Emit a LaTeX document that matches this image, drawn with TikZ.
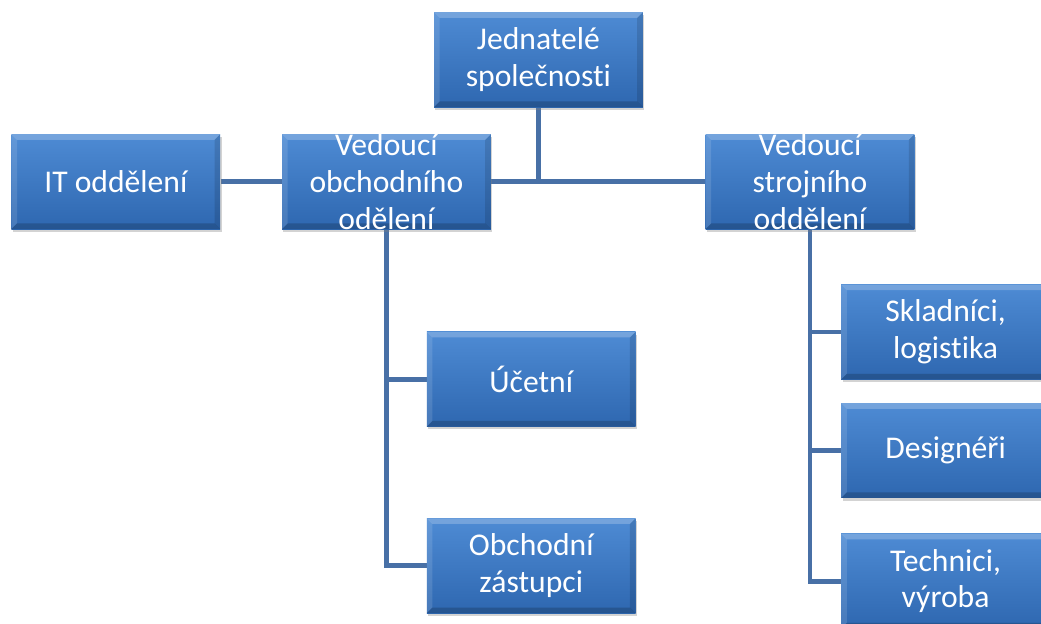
\documentclass[tikz,border=0pt]{standalone}
\usepackage{fontspec}
\setmainfont[Ligatures=NoCommon]{Carlito}
\usetikzlibrary{positioning,backgrounds,shadows}
\definecolor{boxtop}{RGB}{78,139,212}
\definecolor{boxbot}{RGB}{46,103,176}
\definecolor{linkblue}{RGB}{72,112,166}

\begin{document}
\begin{tikzpicture}
[font=\fontsize{22.5pt}{26pt}\selectfont,
% STYLES
% The unit style draws one department box
unit/.style={rectangle, inner sep=0pt, minimum width=5.22cm, minimum height=2.37cm,
  top color=boxtop, bottom color=boxbot, text=white, align=center,
  drop shadow={shadow xshift=1pt, shadow yshift=-2pt, opacity=0.35},
  path picture={
    \fill[white, opacity=0.22] (path picture bounding box.north west) -- (path picture bounding box.north east)
      -- ([xshift=-4pt,yshift=-4pt]path picture bounding box.north east) -- ([xshift=4pt,yshift=-4pt]path picture bounding box.north west) -- cycle;
    \fill[white, opacity=0.12] (path picture bounding box.north west) -- ([xshift=4pt,yshift=-4pt]path picture bounding box.north west)
      -- ([xshift=4pt,yshift=4pt]path picture bounding box.south west) -- (path picture bounding box.south west) -- cycle;
    \fill[black, opacity=0.18] (path picture bounding box.south west) -- (path picture bounding box.south east)
      -- ([xshift=-4pt,yshift=4pt]path picture bounding box.south east) -- ([xshift=4pt,yshift=4pt]path picture bounding box.south west) -- cycle;
    \fill[black, opacity=0.12] (path picture bounding box.north east) -- ([xshift=-4pt,yshift=-4pt]path picture bounding box.north east)
      -- ([xshift=-4pt,yshift=4pt]path picture bounding box.south east) -- (path picture bounding box.south east) -- cycle;
  }},
% The caption style is used for texts that run over the box
caption/.style={text=white, align=center, inner sep=0pt},
% The link style draws the lines between the boxes
link/.style={draw=linkblue, line width=3.5pt}]

\useasboundingbox (0,0) rectangle (26.025,-15.575);

% Draw units
\node [unit] (ceo) at (13.46,-1.49) {Jednatelé\\společnosti};
\node [unit, label={[caption]center:Vedoucí\\obchodního\\odělení}] (obch) at (9.66,-4.54) {};
\node [unit, left=1.53cm of obch] (it) {IT oddělení};
\node [unit, label={[caption]center:Vedoucí\\strojního\\oddělení}] (stroj) at (20.25,-4.54) {};

% obch
\node [unit] (ucet) at (13.28,-9.48) {Účetní};
\node [unit, below=2.28cm of ucet] (zast) {Obchodní\\zástupci};

% stroj
\node [unit] (sklad) at (23.64,-8.30) {Skladníci,\\logistika};
\node [unit, below=0.58cm of sklad] (design) {Designéři};
\node [unit, below=0.88cm of design] (tech) {Technici,\\výroba};

% Draw the links between units
\begin{scope}[on background layer]
\path[link]
(it) edge (obch)
(obch.east) edge (stroj.west)
(ceo.south) edge (ceo.south |- obch.east);
\draw[link] (obch.south) |- (zast.west);
\draw[link] (obch.south |- ucet.west) -- (ucet.west);
\draw[link] (stroj.south) |- (tech.west);
\draw[link] (stroj.south |- sklad.west) -- (sklad.west);
\draw[link] (stroj.south |- design.west) -- (design.west);
\end{scope}

\end{tikzpicture}
\end{document}
